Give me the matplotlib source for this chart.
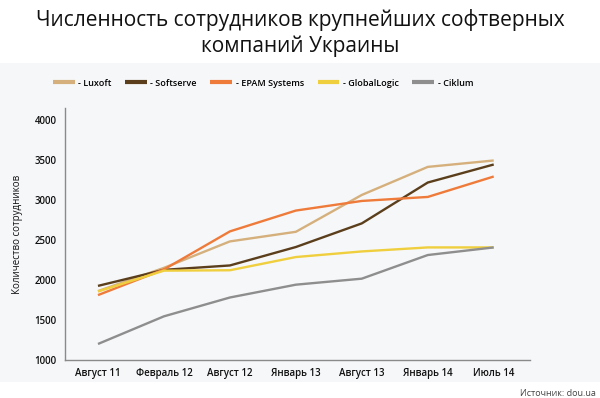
import matplotlib
matplotlib.use("Agg")
import matplotlib.pyplot as plt
from matplotlib.lines import Line2D

plt.rcParams['font.family'] = ['Open Sans', 'DejaVu Sans']

categories = ["Август 11", "Февраль 12", "Август 12", "Январь 13", "Август 13", "Январь 14", "Июль 14"]
luxoft = [1860, 2150, 2480, 2600, 3060, 3410, 3490]
softserve = [1925, 2125, 2180, 2410, 2705, 3215, 3440]
epam = [1810, 2130, 2605, 2865, 2985, 3035, 3290]
globallogic = [1855, 2115, 2120, 2285, 2355, 2405, 2405]
ciklum = [1200, 1545, 1780, 1940, 2015, 2310, 2405]
series_names = ["- Luxoft", "- Softserve", "- EPAM Systems", "- GlobalLogic", "- Ciklum"]
yticks = [1000, 1500, 2000, 2500, 3000, 3500, 4000]

colors = ["#d5b07c", "#5b3f1c", "#ef7b3a", "#f0cf3e", "#8e8e8e"]

fig = plt.figure(figsize=(6.0, 3.98), dpi=100)
fig.patch.set_facecolor("white")

# gray panel as a background axes
bg = fig.add_axes([0, 1 - 382/398, 1, (382-63)/398], zorder=-5)
bg.set_facecolor("#f6f7f9")
bg.set_xticks([]); bg.set_yticks([])
for s in bg.spines.values():
    s.set_visible(False)

fig.text(0.5, 1 - 20/398, "Численность сотрудников крупнейших софтверных", ha="center", va="center",
         fontsize=15, color="#111111")
fig.text(0.5, 1 - 46/398, "компаний Украины", ha="center", va="center", fontsize=15, color="#111111")

ax = fig.add_axes([65/600, 1 - 360/398, (530-65)/600, (360-108)/398], zorder=1)
ax.set_facecolor("none")
x = list(range(len(categories)))
for vals, c in zip([luxoft, softserve, epam, globallogic, ciklum], colors):
    ax.plot(x, vals, color=c, lw=1.7, solid_capstyle="butt")

ax.set_xlim(-0.5, 6.55)
ax.set_ylim(1000, 4145)
ax.set_yticks(yticks)
ax.set_yticklabels([str(v) for v in yticks])
ax.set_xticks(x)
ax.set_xticklabels(categories)
for s in ["top", "right"]:
    ax.spines[s].set_visible(False)
for s in ["left", "bottom"]:
    ax.spines[s].set_color("#8a8a8a")
    ax.spines[s].set_linewidth(1.0)
ax.tick_params(length=0, labelsize=7, colors="#111111", pad=6)
for lab in ax.get_xticklabels() + ax.get_yticklabels():
    lab.set_fontweight("semibold")
ax.set_ylabel("Количество сотрудников", fontsize=7, color="#111111", labelpad=8)

handles = [Line2D([0], [0], color=c, lw=3, solid_capstyle="butt") for c in colors]
leg = fig.legend(handles, series_names, loc="center", bbox_to_anchor=(263/600, 1 - 83/398), ncol=5,
                 frameon=False, fontsize=6.5, handlelength=2.4, handletextpad=0.4, columnspacing=1.5)
for t in leg.get_texts():
    t.set_fontweight("semibold")

fig.text(596/600, 1 - 393/398, "Источник: dou.ua", ha="right", va="center", fontsize=6.5, color="#444444")

fig.savefig("out.png", dpi=100)
